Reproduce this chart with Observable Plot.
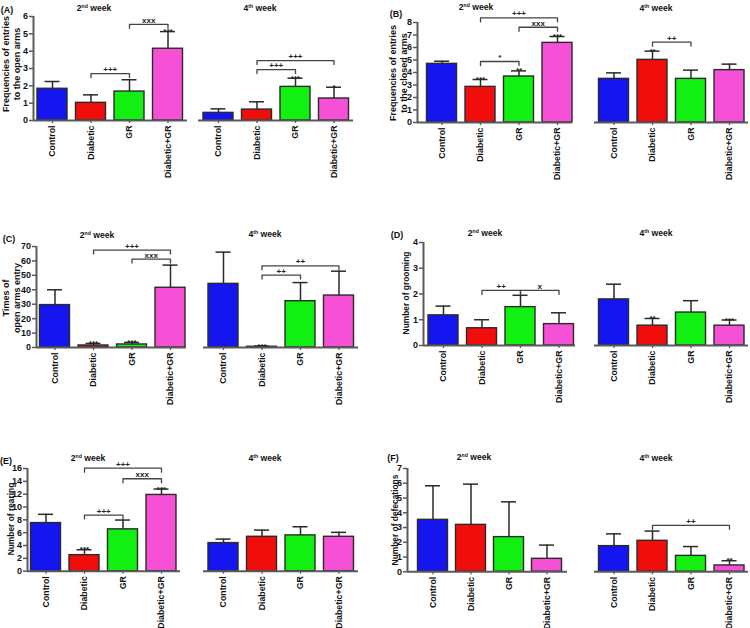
<!DOCTYPE html>
<html><head><meta charset="utf-8">
<script src="https://cdn.jsdelivr.net/npm/d3@7"></script>
<script src="https://cdn.jsdelivr.net/npm/@observablehq/plot@0.6"></script>
<style>
body{margin:0;background:#fff;}
#fig{position:relative;width:750px;height:628px;overflow:hidden;font-family:"Liberation Sans",Arial,sans-serif;font-weight:bold;color:#111;background:#fff;}
#fig svg{position:absolute;overflow:visible;}
.lbl{position:absolute;white-space:nowrap;line-height:1.2;text-align:center;}
.lbl sup{font-size:0.6em;vertical-align:0.55em;line-height:0;}
</style></head><body><div id="fig"></div><script>
// ---------- data ----------
const groups = ["Control", "Diabetic", "GR", "Diabetic+GR"];
const colors = ["#1515f0", "#f20d0d", "#12f012", "#f550d6"];

// (A) Frequencies of entries to the open arms
const A_ticks = [0, 1, 2, 3, 4, 5, 6];
const A2_mean = [1.83, 1.02, 1.67, 4.14];
const A2_sd = [0.42, 0.46, 0.68, 0.99];
const A2_stars = ["", "", "", "***"];
const A2_brackets = [{from: 1, to: 2, level: 2.7, label: "+++"}, {from: 2, to: 3, level: 5.55, label: "xxx"}];
const A4_mean = [0.44, 0.63, 1.94, 1.27];
const A4_sd = [0.23, 0.45, 0.50, 0.65];
const A4_stars = ["", "", "***", "*"];
const A4_brackets = [{from: 1, to: 2, level: 2.94, label: "+++"}, {from: 1, to: 3, level: 3.46, label: "+++"}];

// (B) Frequencies of entries to the closed arms
const B_ticks = [0, 1, 2, 3, 4, 5, 6, 7, 8];
const B2_mean = [4.69, 2.85, 3.68, 6.37];
const B2_sd = [0.21, 0.59, 0.45, 0.51];
const B2_stars = ["", "***", "**", "***"];
const B2_brackets = [{from: 1, to: 2, level: 4.88, label: "*"}, {from: 2, to: 3, level: 7.62, label: "xxx"}, {from: 1, to: 3, level: 8.37, label: "+++"}];
const B4_mean = [3.49, 5.01, 3.49, 4.19];
const B4_sd = [0.48, 0.70, 0.70, 0.48];
const B4_stars = ["", "**", "", ""];
const B4_brackets = [{from: 1, to: 2, level: 6.43, label: "++"}];

// (C) Times of open arms entry
const C_ticks = [0, 10, 20, 30, 40, 50, 60, 70];
const C2_mean = [29.4, 1.4, 2.1, 41.4];
const C2_sd = [10.6, 1.4, 1.4, 15.7];
const C2_stars = ["", "***", "***", ""];
const C2_brackets = [{from: 1, to: 3, level: 67.5, label: "+++"}, {from: 2, to: 3, level: 61.3, label: "xxx"}];
const C4_mean = [44.1, 0.5, 32.1, 36.0];
const C4_sd = [22.0, 0.5, 12.9, 16.9];
const C4_stars = ["", "***", "", ""];
const C4_brackets = [{from: 1, to: 2, level: 50.2, label: "++"}, {from: 1, to: 3, level: 56.6, label: "++"}];

// (D) Number of grooming
const D_ticks = [0, 1, 2, 3, 4];
const D2_mean = [1.17, 0.67, 1.49, 0.83];
const D2_sd = [0.36, 0.33, 0.46, 0.44];
const D2_stars = ["", "", "", ""];
const D2_brackets = [{from: 1, to: 2, level: 2.14, label: "++"}, {from: 2, to: 3, level: 2.14, label: "x"}];
const D4_mean = [1.79, 0.77, 1.28, 0.77];
const D4_sd = [0.59, 0.28, 0.46, 0.22];
const D4_stars = ["", "**", "", "***"];
const D4_brackets = [];

// (E) Number of rearing
const E_ticks = [0, 2, 4, 6, 8, 10, 12, 14, 16];
const E2_mean = [7.5, 2.5, 6.52, 11.88];
const E2_sd = [1.36, 0.84, 1.45, 0.92];
const E2_stars = ["", "***", "", "***"];
const E2_brackets = [{from: 1, to: 2, level: 8.75, label: "+++"}, {from: 2, to: 3, level: 14.4, label: "xxx"}, {from: 1, to: 3, level: 16.05, label: "+++"}];
const E4_mean = [4.38, 5.36, 5.58, 5.36];
const E4_sd = [0.62, 1.04, 1.34, 0.69];
const E4_stars = ["", "", "", ""];
const E4_brackets = [];

// (F) Number of defecations
const F_ticks = [0, 1, 2, 3, 4, 5, 6, 7];
const F2_mean = [3.52, 3.18, 2.35, 0.88];
const F2_sd = [2.31, 2.76, 2.39, 0.93];
const F2_stars = ["", "", "", ""];
const F2_brackets = [];
const F4_mean = [1.74, 2.10, 1.08, 0.43];
const F4_sd = [0.83, 0.66, 0.63, 0.32];
const F4_stars = ["", "", "", "**"];
const F4_brackets = [{from: 1, to: 3, level: 3.15, label: "++"}];

// ---------- drawing ----------
const fig = document.getElementById("fig");
const FONT = "'Liberation Sans', Arial, sans-serif";
const INK = "#2a2a2a";
const AXIS = "#5a5a5a";

function panel(mean, sd, stars, brackets, ticks, lay, withY) {
  const {left, right, first, step, top, base} = lay;
  const ymax = ticks[ticks.length - 1];
  const ml = 40, mr = 10, mt = 40, mb = 70;
  const w = right - left, h = base - top;
  const rows = groups.map((g, i) => ({i, g, mean: mean[i], hi: mean[i] + sd[i], star: stars[i]}));
  const drop = ymax * 4 / h;
  const half = 15 / step, cap = 7.5 / step;
  const bl = brackets.flatMap((b, k) => [
    {k, x: b.from, y: b.level - drop}, {k, x: b.from, y: b.level},
    {k, x: b.to, y: b.level}, {k, x: b.to, y: b.level - drop}]);
  const x0 = (left - first) / step, x1 = (right - first) / step;
  const marks = [
    Plot.ruleX(rows, {x: "i", y1: "mean", y2: "hi", stroke: INK, strokeWidth: 1.5}),
    Plot.ruleY(rows, {y: "hi", x1: d => d.i - cap, x2: d => d.i + cap, stroke: INK, strokeWidth: 1.5}),
    Plot.rectY(rows, {x1: d => d.i - half, x2: d => d.i + half, y1: 0, y2: "mean", fill: "g", stroke: INK, strokeWidth: 1.4}),
    Plot.ruleY([0], {stroke: AXIS, strokeWidth: 2}),
    Plot.axisX({ticks: [0, 1, 2, 3], tickFormat: i => groups[i], tickRotate: -90, tickSize: 3, tickPadding: 2,
      fontSize: 8.8, stroke: AXIS, strokeWidth: 1.3, fill: "#111", label: null}),
    Plot.text(rows.filter(d => d.star), {x: "i", y: "hi", text: "star", fontSize: 8, fill: "#222"}),
    Plot.line(bl, {x: "x", y: "y", z: "k", stroke: "#444", strokeWidth: 1.3}),
    Plot.text(brackets, {x: b => (b.from + b.to) / 2, y: "level", text: "label", lineAnchor: "bottom", dy: -1.5, fontSize: 8, fill: "#222"})
  ];
  if (withY) {
    marks.push(
      Plot.ruleX([x0], {stroke: AXIS, strokeWidth: 2}),
      Plot.axisY({ticks, tickFormat: d => String(d), tickSize: 4, tickPadding: 1.5, fontSize: 9, stroke: AXIS, strokeWidth: 1.5, fill: "#111", label: null})
    );
  }
  const svg = Plot.plot({
    width: w + ml + mr, height: h + mt + mb,
    marginLeft: ml, marginRight: mr, marginTop: mt, marginBottom: mb,
    x: {domain: [x0, x1]},
    y: {domain: [0, ymax], axis: withY ? undefined : null},
    color: {domain: groups, range: colors},
    style: {background: "transparent", overflow: "visible", fontFamily: FONT, fontWeight: "bold"},
    marks
  });
  svg.style.left = (left - ml) + "px";
  svg.style.top = (top - mt) + "px";
  svg.style.maxWidth = "none";
  fig.append(svg);
}

function txt(x, y, html, size, rot) {
  const d = document.createElement("div");
  d.className = "lbl";
  d.innerHTML = html;
  d.style.left = x + "px";
  d.style.top = y + "px";
  d.style.fontSize = size + "px";
  d.style.transform = "translate(-50%,-50%)" + (rot ? " rotate(-90deg)" : "");
  fig.append(d);
}

const ST = 38.5;
// row 1
panel(A2_mean, A2_sd, A2_stars, A2_brackets, A_ticks, {left: 33, right: 187, first: 52, step: ST, top: 16, base: 120}, true);
panel(A4_mean, A4_sd, A4_stars, A4_brackets, A_ticks, {left: 198, right: 353, first: 218, step: ST, top: 16, base: 120}, false);
panel(B2_mean, B2_sd, B2_stars, B2_brackets, B_ticks, {left: 417, right: 572, first: 441.5, step: ST, top: 22, base: 122}, true);
panel(B4_mean, B4_sd, B4_stars, B4_brackets, B_ticks, {left: 594, right: 748, first: 613.5, step: ST, top: 22, base: 122}, false);
// row 2
panel(C2_mean, C2_sd, C2_stars, C2_brackets, C_ticks, {left: 36, right: 186, first: 54.5, step: ST, top: 245.7, base: 346.7}, true);
panel(C4_mean, C4_sd, C4_stars, C4_brackets, C_ticks, {left: 203, right: 358, first: 223, step: ST, top: 245.7, base: 346.7}, false);
panel(D2_mean, D2_sd, D2_stars, D2_brackets, D_ticks, {left: 423, right: 575, first: 443, step: ST, top: 242.3, base: 345.3}, true);
panel(D4_mean, D4_sd, D4_stars, D4_brackets, D_ticks, {left: 594, right: 748, first: 613.5, step: ST, top: 242.3, base: 345.3}, false);
// row 3
panel(E2_mean, E2_sd, E2_stars, E2_brackets, E_ticks, {left: 27, right: 180, first: 45.5, step: ST, top: 468.3, base: 571}, true);
panel(E4_mean, E4_sd, E4_stars, E4_brackets, E_ticks, {left: 203, right: 358, first: 223, step: ST, top: 468.3, base: 571}, false);
panel(F2_mean, F2_sd, F2_stars, F2_brackets, F_ticks, {left: 407, right: 567, first: 432.5, step: 38, top: 467.7, base: 571}, true);
panel(F4_mean, F4_sd, F4_stars, F4_brackets, F_ticks, {left: 594, right: 748, first: 613.5, step: ST, top: 467.7, base: 571}, false);

// titles
const wk2 = "2<sup>nd</sup> week", wk4 = "4<sup>th</sup> week";
txt(94, 8, wk2, 8.6); txt(260, 8, wk4, 8.6);
txt(476, 7, wk2, 8.6); txt(656, 8, wk4, 8.6);
txt(97, 235, wk2, 8.6); txt(265, 234, wk4, 8.6);
txt(485, 233, wk2, 8.6); txt(656, 233, wk4, 8.6);
txt(88, 458, wk2, 8.6); txt(265, 458, wk4, 8.6);
txt(474, 457, wk2, 8.6); txt(656, 458, wk4, 8.6);
// panel letters
txt(7, 10, "(A)", 9); txt(396, 14, "(B)", 9);
txt(9, 239, "(C)", 9); txt(397, 235, "(D)", 9);
txt(6, 461, "(E)", 9); txt(393, 458, "(F)", 9);
// y labels
txt(12, 64, "Frequencies of entries<br>to the open arms", 9, true);
txt(399, 73, "Frequencies of entries<br>to the closed arms", 9, true);
txt(12, 298, "Times of<br>open arms entry", 9, true);
txt(406, 293, "Number of grooming", 8.4, true);
txt(11, 519, "Number of rearing", 8.4, true);
txt(395, 520, "Number of defecations", 8.4, true);
</script></body></html>
